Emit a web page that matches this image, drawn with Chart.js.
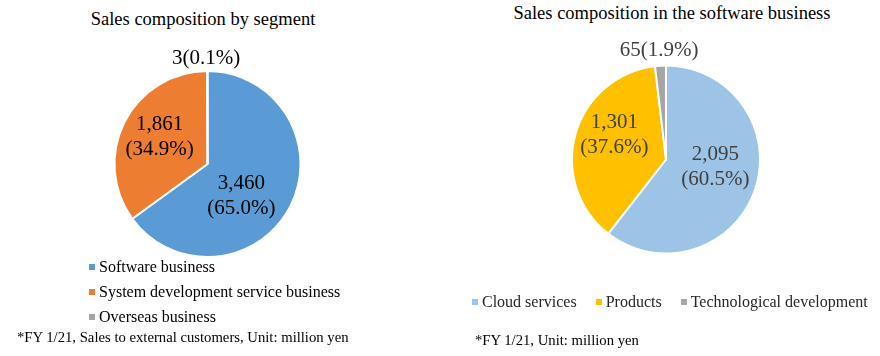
<!DOCTYPE html>
<html>
<head>
<meta charset="utf-8">
<script src="https://cdn.jsdelivr.net/npm/chart.js@4/dist/chart.umd.min.js"></script>
<style>
  html, body { margin: 0; padding: 0; background: #fff; }
  body { width: 880px; height: 356px; position: relative; overflow: hidden;
         font-family: "Liberation Serif", "Times New Roman", serif; color: #000; }
  canvas { position: absolute; top: 0; }
  .t { position: absolute; white-space: nowrap; line-height: 1; }
  .title { font-size: 18.5px; }
  .foot { font-size: 14.7px; }
  .leg { position: absolute; font-size: 16px; line-height: 1; white-space: nowrap; }
  .leg .it { display: flex; align-items: center; }
  .leg .sw { width: 6px; height: 6px; margin-right: 4px; flex: none; }
  #legL .it { height: 25px; }
  #legR { display: flex; }
  #legR .it { margin-right: 19px; }
</style>
</head>
<body>
<div class="t title" id="titleL" style="left:0;width:406px;text-align:center;top:10px;"></div>
<div class="t title" id="titleR" style="left:440px;width:464px;text-align:center;top:4px;"></div>
<canvas id="cL" width="440" height="356" style="left:0"></canvas>
<canvas id="cR" width="440" height="356" style="left:440px"></canvas>
<div class="leg" id="legL" style="left:89px;top:254px;"></div>
<div class="leg" id="legR" style="left:472px;top:294px;"></div>
<div class="t foot" id="footL" style="left:17px;top:329.5px;"></div>
<div class="t foot" id="footR" style="left:475px;top:333px;"></div>
<script>
// ---- Data ----
const segmentTitle = "Sales composition by segment";
const segmentLabels = ["Software business", "System development service business", "Overseas business"];
const segmentValues = [3460, 1861, 3];
const segmentShares = [65.0, 34.9, 0.1];
const segmentNote = "*FY 1/21, Sales to external customers, Unit: million yen";

const softwareTitle = "Sales composition in the software business";
const softwareLabels = ["Cloud services", "Products", "Technological development"];
const softwareValues = [2095, 1301, 65];
const softwareShares = [60.5, 37.6, 1.9];
const softwareNote = "*FY 1/21, Unit: million yen";

// ---- Styles ----
const segmentColors = ["#5B9BD5", "#ED7D31", "#A5A5A5"];
const softwareColors = ["#9DC3E6", "#FFC000", "#A5A5A5"];
const FONT = '"Liberation Serif", "Times New Roman", serif';

// label placement relative to pie centre, in units of the pie radius
const segmentLabelAnchors = [[0.364, 0.324, 2], [-0.516, -0.304, 2], [-0.016, -1.152, 1]];
const softwareLabelAnchors = [[0.525, 0.064, 2], [-0.550, -0.275, 2], [-0.073, -1.177, 1]];

const fmt = v => v.toLocaleString('en-US');

const pieLabelPlugin = {
  id: 'pieLabels',
  afterDatasetsDraw(chart, args, opts) {
    const ctx = chart.ctx;
    const meta = chart.getDatasetMeta(0);
    const values = chart.data.datasets[0].data;
    ctx.save();
    ctx.font = '21px ' + FONT;
    ctx.fillStyle = opts.color;
    ctx.textAlign = 'center';
    ctx.textBaseline = 'alphabetic';
    meta.data.forEach((arc, i) => {
      const [fx, fy, lines] = opts.anchors[i];
      const r = arc.outerRadius;
      const ax = arc.x + fx * r;
      const ay = arc.y + fy * r;
      const v = fmt(values[i]);
      const p = '(' + opts.shares[i].toFixed(1) + '%)';
      const txt = lines === 2 ? [v, p] : [v + p];
      const lh = 25;
      txt.forEach((t, k) => {
        const y = ay - (txt.length - 1) * lh / 2 + k * lh + 7;
        ctx.fillText(t, ax, y);
      });
    });
    ctx.restore();
  }
};

function makePie(id, labels, values, colors, pad, radius, anchors, shares, labelColor) {
  return new Chart(document.getElementById(id), {
    type: 'pie',
    data: {
      labels: labels,
      datasets: [{
        data: values,
        backgroundColor: colors,
        borderColor: '#ffffff',
        borderWidth: 2
      }]
    },
    options: {
      responsive: false,
      animation: false,
      devicePixelRatio: 1,
      radius: radius,
      layout: { padding: pad },
      plugins: {
        legend: { display: false },
        tooltip: { enabled: false },
        title: { display: false },
        pieLabels: { anchors: anchors, shares: shares, color: labelColor }
      }
    },
    plugins: [pieLabelPlugin]
  });
}

makePie('cL', segmentLabels, segmentValues, segmentColors,
  { left: 107.5, right: 132.5, top: 64, bottom: 92 }, 93,
  segmentLabelAnchors, segmentShares, '#000000');
makePie('cR', softwareLabels, softwareValues, softwareColors,
  { left: 126, right: 114, top: 59.5, bottom: 96.5 }, 94,
  softwareLabelAnchors, softwareShares, '#404040');

document.getElementById('titleL').textContent = segmentTitle;
document.getElementById('titleR').textContent = softwareTitle;
document.getElementById('footL').textContent = segmentNote;
document.getElementById('footR').textContent = softwareNote;

function buildLegend(elId, labels, colors, textColor) {
  const el = document.getElementById(elId);
  labels.forEach((l, i) => {
    const it = document.createElement('div');
    it.className = 'it';
    const sw = document.createElement('span');
    sw.className = 'sw';
    sw.style.background = colors[i];
    const tx = document.createElement('span');
    tx.textContent = l;
    tx.style.color = textColor;
    it.appendChild(sw); it.appendChild(tx);
    el.appendChild(it);
  });
}
buildLegend('legL', segmentLabels, segmentColors, '#000000');
buildLegend('legR', softwareLabels, softwareColors, '#262626');
</script>
</body>
</html>
